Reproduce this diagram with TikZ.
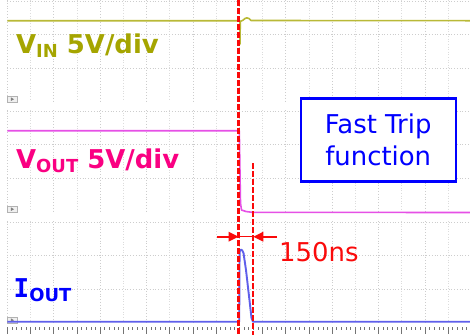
\documentclass[tikz,border=0pt]{standalone}
\usepackage{fontspec}
\setmainfont{DejaVu Sans}
\setmonofont{DejaVu Sans Mono}
\usepackage{tikz}
\usetikzlibrary{positioning,arrows.meta}
\definecolor{vinc}{RGB}{165,165,0}
\definecolor{vinl}{RGB}{185,185,55}
\definecolor{voutc}{RGB}{250,0,130}
\definecolor{voutl}{RGB}{230,80,230}
\definecolor{ioutc}{RGB}{0,0,255}
\definecolor{ioutl}{RGB}{95,95,235}
\definecolor{gridc}{RGB}{205,205,205}
\definecolor{curc}{RGB}{250,10,10}
\newcommand{\chsub}[1]{\raisebox{-4bp}{\fontsize{18}{18}\selectfont #1}}
\tikzset{gridmin/.style={draw=gridc!70, dotted, line width=0.6bp}}
\tikzset{gridmaj/.style={draw=gridc, dotted, line width=0.8bp}}
\tikzset{scaletick/.style={draw=black!55, line width=0.6bp}}
\tikzset{markbox/.style={draw=gray!60, fill=gray!12, line width=0.5bp}}
\tikzset{trace/.style={line width=1.6bp, line join=round}}
\tikzset{cursor/.style={draw=curc, line width=2.3bp, dash pattern=on 5.5bp off 2.5bp}}
\tikzset{dimarr/.style={draw=curc, line width=1.7bp, -{Triangle[length=10bp,width=9.5bp]}}}
\tikzset{chlabel/.style={inner sep=0, anchor=base west, font=\bfseries\fontsize{26}{30}\selectfont}}
\tikzset{dtlabel/.style={inner sep=0, anchor=base west, text=curc, font=\fontsize{26}{30}\selectfont}}
\tikzset{tripbox/.style={draw=blue, line width=2.4bp, fill=white, text=blue, align=center, minimum width=155bp, minimum height=83bp, inner sep=0, font=\fontsize{26}{32}\selectfont}}

\begin{document}
\begin{tikzpicture}[x=1bp, y=-1bp]
	\useasboundingbox (0,0) rectangle (470,335);
	\fill[white] (0,0) rectangle (470,335);
	% grid of the three channels
	\foreach \top in {0,110,221} {
		\foreach \gx in {7.3,53.7,...,470} \draw[gridmaj] (\gx,\top) -- (\gx,\top+101);
		\foreach \gx in {30.5,76.9,...,470} \draw[gridmin] (\gx,\top) -- (\gx,\top+101);
		\foreach \r in {0,1,2} \draw[gridmaj] (7.3,\top+1+33.7*\r) -- (470,\top+1+33.7*\r);
		\draw[markbox] (7.3,\top+96) rectangle ++(10,6.4);
		\fill[gray] (10.8,\top+97.3) -- ++(0,3.8) -- ++(3.2,-1.9) -- cycle;
	}
	% time scale
	\foreach \k in {0,...,99} \draw[scaletick] (7.3+4.64*\k,327) -- ++(0,3);
	\foreach \k in {0,...,19} \draw[scaletick] (7.3+23.2*\k,327) -- ++(0,7);
	% traces
	\draw[trace, vinl] (7.3,20.7) -- (239.8,20.7) -- (240,44) -- (240.3,21.5) -- (243,20.2)
		.. controls (246,17) and (248,17) .. (251,20.5) -- (470,20.7);
	\draw[trace, voutl] (7.3,130.7) -- (239.3,130.7) -- (240.5,203) -- (241.5,210)
		-- (246,211.5) -- (252,212.3) -- (470,212.5);
	\draw[trace, ioutl, line width=1.9bp] (7.3,321.7) -- (239.2,321.7) -- (239.6,252)
		.. controls (240,249) and (242,248.5) .. (243.5,253) -- (246,270) -- (249,296)
		-- (251.5,318) -- (253,321.7) -- (470,321.7);
	% labels
	\node[chlabel, text=vinc] (vin) at (16,53.3) {V\chsub{IN} 5V/div};
	\node[chlabel, text=voutc] (vout) at (16,168.5) {V\chsub{OUT} 5V/div};
	\node[chlabel, text=ioutc] (iout) at (13.5,297) {{\ttfamily I}\chsub{OUT}};
	\node[tripbox] (trip) at (378.2,140) {Fast Trip\\function};
	% cursors
	\coordinate (t1) at (238.5,0);
	\coordinate (t1b) at (238.5,335);
	\coordinate (t2) at (253.3,163);
	\coordinate (t2b) at (253.3,335);
	\draw[cursor] (t1) -- (t1b);
	\draw[cursor] (t2) -- (t2b);
	\coordinate (d1) at (238.5,236.7);
	\coordinate (d2) at (253.3,236.7);
	\coordinate (a1) at (216.5,236.7);
	\coordinate (a2) at (277,236.7);
	\draw[curc, line width=0.8bp] (d1) -- (d2);
	\draw[dimarr] (a1) -- (d1);
	\draw[dimarr] (a2) -- (d2);
	\node[dtlabel] (dt) at (279,261) {150ns};
\end{tikzpicture}
\end{document}
